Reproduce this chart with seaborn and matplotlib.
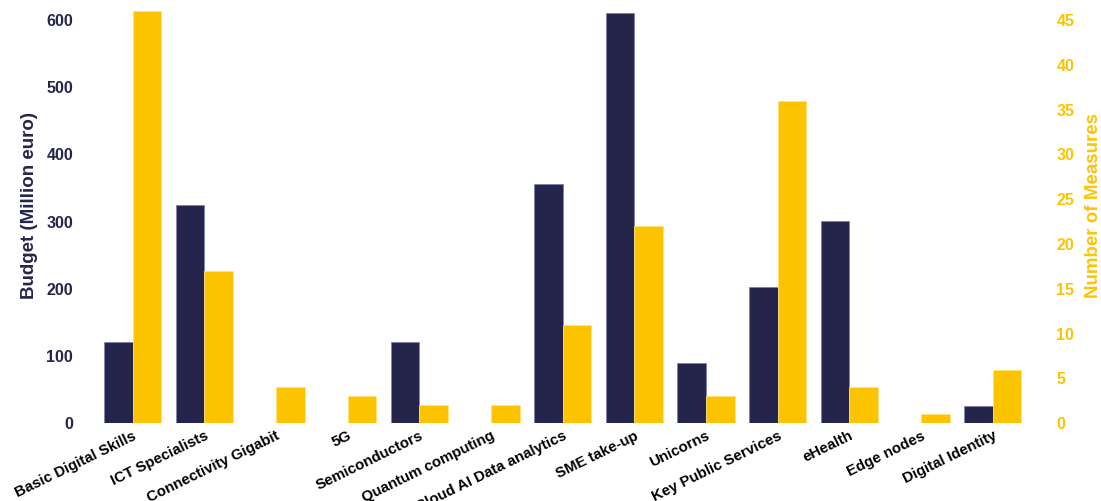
import matplotlib
matplotlib.use('Agg')
from matplotlib import pyplot as plt
import seaborn as sns
import numpy as np
import pandas as pd

# Data
categories = ['Basic Digital Skills', 'ICT Specialists', 'Connectivity Gigabit', '5G',
              'Semiconductors', 'Quantum computing', 'Cloud AI Data analytics',
              'SME take-up', 'Unicorns', 'Key Public Services', 'eHealth',
              'Edge nodes', 'Digital Identity']
budget = [121, 325, 0, 0, 121, 0, 356, 610, 90, 203, 301, 0, 25]
measures = [46, 17, 4, 3, 2, 2, 11, 22, 3, 36, 4, 1, 6]
budget_ticks = [0, 100, 200, 300, 400, 500, 600]
measure_ticks = [0, 5, 10, 15, 20, 25, 30, 35, 40, 45]

NAVY = '#25244b'
GOLD = '#fcc400'

sns.set_style('white')
plt.rcParams['font.family'] = ['Liberation Sans', 'DejaVu Sans']

# long-format tables: each axis only fills its own series
df_budget = pd.DataFrame({
    'category': categories * 2,
    'series': ['Budget'] * len(categories) + ['Measures'] * len(categories),
    'value': budget + [np.nan] * len(categories),
})
df_measures = pd.DataFrame({
    'category': categories * 2,
    'series': ['Budget'] * len(categories) + ['Measures'] * len(categories),
    'value': [np.nan] * len(categories) + measures,
})
palette = {'Budget': NAVY, 'Measures': GOLD}

fig = plt.figure(figsize=(11.01, 5.01), dpi=100)
ax = fig.add_axes([96.8 / 1101, 77.7 / 501, (1028.5 - 96.8) / 1101, (423.3 - 6.5) / 501])
ax2 = ax.twinx()

sns.barplot(data=df_budget, x='category', y='value', hue='series',
            hue_order=['Budget', 'Measures'], order=categories, palette=palette,
            width=0.8, ax=ax, legend=False, errorbar=None, saturation=1,
            edgecolor='#7d82b0', linewidth=0.6)
sns.barplot(data=df_measures, x='category', y='value', hue='series',
            hue_order=['Budget', 'Measures'], order=categories, palette=palette,
            width=0.8, ax=ax2, legend=False, errorbar=None, saturation=1,
            edgecolor='#ffe27a', linewidth=0.6)

ax.set_xlim(-0.5, 12.5)
ax.set_ylim(0, 620)
ax2.set_ylim(0, 620 * 45 / 600)
ax.set_yticks(budget_ticks)
ax2.set_yticks(measure_ticks)

ax.set_xlabel('')
ax.set_ylabel('Budget (Million euro)', fontsize=13.5, fontweight='bold', color=NAVY, labelpad=6)
ax2.set_ylabel('Number of Measures', fontsize=13.5, fontweight='bold', color=GOLD, labelpad=8)
ax.yaxis.label.set_y(0.523)
ax2.yaxis.label.set_y(0.523)

ax.tick_params(axis='y', length=0, pad=17, labelsize=11.5, labelcolor=NAVY)
ax2.tick_params(axis='y', length=0, pad=20, labelsize=11.5, labelcolor=GOLD)
for lab in ax.get_yticklabels():
    lab.set_fontweight('bold')
for lab in ax2.get_yticklabels():
    lab.set_fontweight('bold')

ax.set_xticks(range(len(categories)))
ax.set_xticklabels(categories, rotation=26, ha='right', rotation_mode='anchor',
                   fontsize=10.8, fontweight='bold', color='black')
ax.tick_params(axis='x', length=0, pad=4)

for a in (ax, ax2):
    for s in a.spines.values():
        s.set_visible(False)
    a.grid(False)

fig.savefig('out.png', dpi=100)
